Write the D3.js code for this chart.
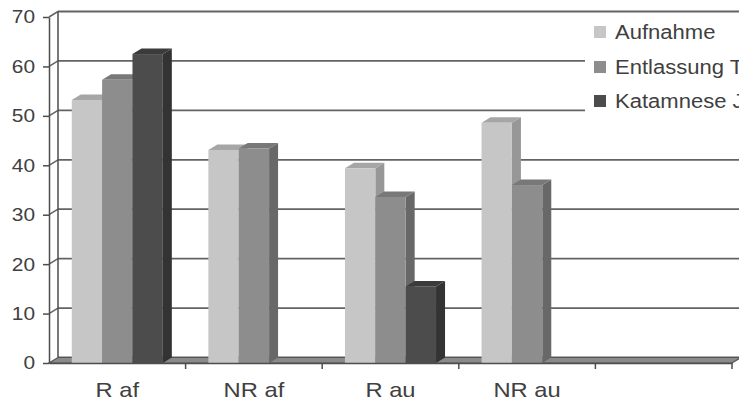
<!DOCTYPE html>
<html>
<head>
<meta charset="utf-8">
<script src="https://cdn.jsdelivr.net/npm/d3@7"></script>
<style>
  html, body { margin: 0; padding: 0; background: #fff; }
  svg { display: block; }
  text { font-family: "Liberation Sans", Arial, sans-serif; fill: #404040; }
</style>
</head>
<body>
<svg id="chart" width="739" height="402"></svg>
<script>
// Category labels (the fifth slot is an empty category)
const categories = ["R af", "NR af", "R au", "NR au", ""];
// Series names shown in the legend
const seriesNames = ["Aufnahme", "Entlassung T2", "Katamnese J1"];
// Values per series, one per category (null = no bar)
const aufnahme   = [53.2, 43.1, 39.4, 48.6, null];
const entlassung = [57.3, 43.4, 33.6, 36.0, null];
const katamnese  = [62.5, null, 15.5, null, null];
// Value axis ticks
const yTicks = [0, 10, 20, 30, 40, 50, 60, 70];

const seriesValues = [aufnahme, entlassung, katamnese];
// front / top / side shades per series
const shades = [
  { front: "#c6c6c6", top: "#a6a6a6", side: "#979797" },
  { front: "#8d8d8d", top: "#787878", side: "#686868" },
  { front: "#4c4c4c", top: "#3b3b3b", side: "#333333" }
];

const svg = d3.select("#chart");
const DX = 9, DY = -5.5;           // depth offset of the 3D box
const x0 = 49, x1 = 732;           // front edge of the category axis
const y = d3.scaleLinear().domain([0, 70]).range([363, 17]);
const x = d3.scaleBand().domain(categories).range([x0, x1]);
const xs = d3.scaleBand().domain(d3.range(seriesNames.length))
  .range([0, x.bandwidth()]).paddingInner(0).paddingOuter(0.75);

const gridColor = "#636363";
const axisColor = "#4d4d4d";

// back wall grid lines
svg.append("g").selectAll("line").data(yTicks).join("line")
  .attr("x1", x0 + DX).attr("x2", 760)
  .attr("y1", d => y(d) + DY).attr("y2", d => y(d) + DY)
  .attr("stroke", gridColor).attr("stroke-width", 1.8);

// side wall grid lines (diagonals from the value axis to the back wall)
svg.append("g").selectAll("line").data(yTicks.filter(d => d > 0)).join("line")
  .attr("x1", x0).attr("x2", x0 + DX)
  .attr("y1", d => y(d)).attr("y2", d => y(d) + DY)
  .attr("stroke", gridColor).attr("stroke-width", 1.5);

// back wall left edge
svg.append("line")
  .attr("x1", x0 + DX).attr("x2", x0 + DX)
  .attr("y1", y(70) + DY).attr("y2", y(0) + DY)
  .attr("stroke", axisColor).attr("stroke-width", 1.5);

// floor
svg.append("path")
  .attr("d", `M${x0},${y(0)} L${x1},${y(0)} L${x1 + DX},${y(0) + DY} L${x0 + DX},${y(0) + DY} Z`)
  .attr("fill", "#8a8a8a").attr("stroke", "#555").attr("stroke-width", 1.2);

// bars: right side face, top face and front face
const bars = [];
categories.forEach((c, ci) => {
  seriesValues.forEach((vals, si) => {
    const v = vals[ci];
    if (v == null) return;
    bars.push({ c, si, v });
  });
});
const barG = svg.append("g");
bars.forEach(b => {
  const bx = x(b.c) + xs(b.si), bw = xs.bandwidth();
  const yt = y(b.v), yb = y(0);
  const g = barG.append("g");
  g.append("path")
    .attr("d", `M${bx + bw},${yt} L${bx + bw + DX},${yt + DY} L${bx + bw + DX},${yb + DY} L${bx + bw},${yb} Z`)
    .attr("fill", shades[b.si].side);
  g.append("path")
    .attr("d", `M${bx},${yt} L${bx + DX},${yt + DY} L${bx + bw + DX},${yt + DY} L${bx + bw},${yt} Z`)
    .attr("fill", shades[b.si].top);
  g.append("rect")
    .attr("x", bx).attr("y", yt).attr("width", bw).attr("height", yb - yt)
    .attr("fill", shades[b.si].front);
});

// value axis
const yAxis = svg.append("g")
  .attr("transform", `translate(${x0},0)`)
  .call(d3.axisLeft(y).tickValues(yTicks).tickSize(6).tickPadding(6.4).tickSizeOuter(0));
yAxis.select(".domain").attr("stroke", axisColor).attr("stroke-width", 1.5);
yAxis.selectAll(".tick line").attr("stroke", axisColor).attr("stroke-width", 1.5);
yAxis.selectAll(".tick text")
  .style("font-size", "18.5px").attr("fill", "#404040")
  .attr("transform", "scale(1.13,1)");

// category axis: labels at band centres, ticks at band boundaries
const xAxis = svg.append("g")
  .attr("transform", `translate(0,${y(0)})`)
  .call(d3.axisBottom(x).tickSize(0).tickPadding(19).tickSizeOuter(0));
xAxis.select(".domain").attr("stroke", axisColor).attr("stroke-width", 1.5);
xAxis.selectAll(".tick text")
  .style("font-size", "21px").attr("fill", "#404040")
  .attr("transform", "scale(1.13,1)")
  .attr("x", 0);
const bounds = categories.map(c => x(c)).slice(1).concat([x1]);
xAxis.selectAll(".bound").data(bounds).join("line")
  .attr("class", "bound")
  .attr("x1", d => d).attr("x2", d => d)
  .attr("y1", 0).attr("y2", 6)
  .attr("stroke", axisColor).attr("stroke-width", 1.5);

// legend (runs past the right edge of the drawing)
const legend = svg.append("g");
legend.append("rect")
  .attr("x", 585).attr("y", 16).attr("width", 170).attr("height", 102)
  .attr("fill", "#fff");
const rowY = [32, 67, 101];
seriesNames.forEach((name, i) => {
  legend.append("rect")
    .attr("x", 594).attr("y", rowY[i] - 6).attr("width", 12).attr("height", 12)
    .attr("fill", shades[i].front);
  legend.append("text")
    .attr("transform", `translate(615,${rowY[i]}) scale(1.13,1)`)
    .attr("dy", "0.36em")
    .style("font-size", "19.5px")
    .text(name);
});
</script>
</body>
</html>
